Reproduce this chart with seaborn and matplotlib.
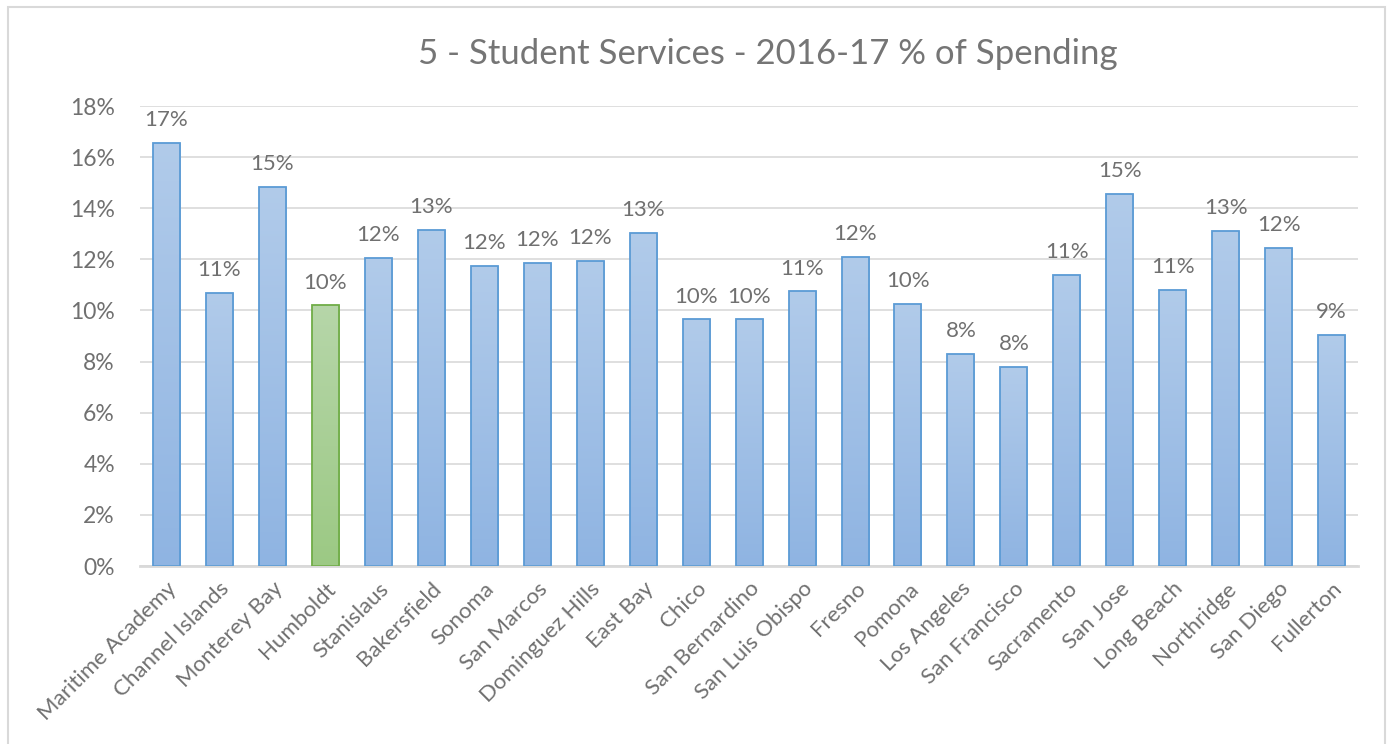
import numpy as np
import pandas as pd
import matplotlib
matplotlib.use("Agg")
import matplotlib.pyplot as plt
import seaborn as sns
from matplotlib.colors import LinearSegmentedColormap
from matplotlib.patches import Rectangle

# Data
campuses = ["Maritime Academy", "Channel Islands", "Monterey Bay", "Humboldt",
            "Stanislaus", "Bakersfield", "Sonoma", "San Marcos", "Dominguez Hills",
            "East Bay", "Chico", "San Bernardino", "San Luis Obispo", "Fresno",
            "Pomona", "Los Angeles", "San Francisco", "Sacramento", "San Jose",
            "Long Beach", "Northridge", "San Diego", "Fullerton"]
pct_spending = [16.55, 10.7, 14.85, 10.2, 12.05, 13.15, 11.75, 11.85, 11.95,
                13.05, 9.65, 9.65, 10.75, 12.1, 10.25, 8.3, 7.8, 11.4, 14.55,
                10.8, 13.1, 12.45, 9.05]
highlight = "Humboldt"

df = pd.DataFrame({"campus": campuses, "pct": pct_spending})

sns.set_theme(style="white")
plt.rcParams['font.family'] = ['Lato', 'DejaVu Sans']
text_col = "#707070"

fig = plt.figure(figsize=(13.93, 7.44), dpi=100)
ax = fig.add_axes([0.1005, 0.2392, 0.8745, 0.6183])

sns.barplot(data=df, x="campus", y="pct", ax=ax, width=0.51,
            color="#9dbde6", saturation=1)

# gradient fill clipped to each bar, like the Excel style
blue = LinearSegmentedColormap.from_list("b", ["#8fb4e2", "#b1cbea"])
green = LinearSegmentedColormap.from_list("g", ["#9cc984", "#b6d6a9"])
grad = np.linspace(0, 1, 256).reshape(-1, 1)
for patch, name in zip(ax.patches, campuses):
    x0, y0 = patch.get_x(), patch.get_y()
    w, h = patch.get_width(), patch.get_height()
    is_hl = name == highlight
    patch.set_facecolor("none")
    patch.set_edgecolor("#70ad47" if is_hl else "#5b9bd5")
    patch.set_linewidth(1.3)
    patch.set_zorder(3)
    im = ax.imshow(grad, cmap=green if is_hl else blue, origin="lower",
                   extent=[x0, x0 + w, y0, y0 + h], aspect="auto", zorder=2)
    im.set_clip_path(patch)
    ax.text(x0 + w / 2, h + 0.5, f"{int(h + 0.5)}%", ha="center", va="bottom",
            fontsize=16, color=text_col)

ax.set_xlim(-0.5, len(campuses) - 0.5)
ax.set_ylim(0, 18)
ax.set_yticks(range(0, 19, 2))
ax.set_yticklabels([f"{v}%" for v in range(0, 19, 2)], fontsize=16.5, color=text_col)
ax.set_xticks(range(len(campuses)))
ax.set_xticklabels(campuses, rotation=45, ha="right", rotation_mode="anchor",
                   fontsize=16, color=text_col)
ax.tick_params(axis="x", length=0, pad=9)
ax.tick_params(axis="y", length=0, pad=18)
ax.set_xlabel("")
ax.set_ylabel("")
ax.grid(axis="y", color="#d9d9d9", linewidth=1.2, zorder=0)
ax.set_axisbelow(True)
for s in ["top", "right", "left"]:
    ax.spines[s].set_visible(False)
ax.spines["bottom"].set_color("#d9d9d9")
ax.spines["bottom"].set_linewidth(2)

fig.text(0.5515, 0.928, "5 - Student Services - 2016-17 % of Spending",
         ha="center", va="center", fontsize=25, color="#757575")

# chart area border
fig.patches.append(Rectangle((0.006, -0.01), 0.988, 1.0, transform=fig.transFigure,
                             fill=False, edgecolor="#d9d9d9", linewidth=1.5))

fig.savefig("out.png", dpi=100, facecolor="white")
